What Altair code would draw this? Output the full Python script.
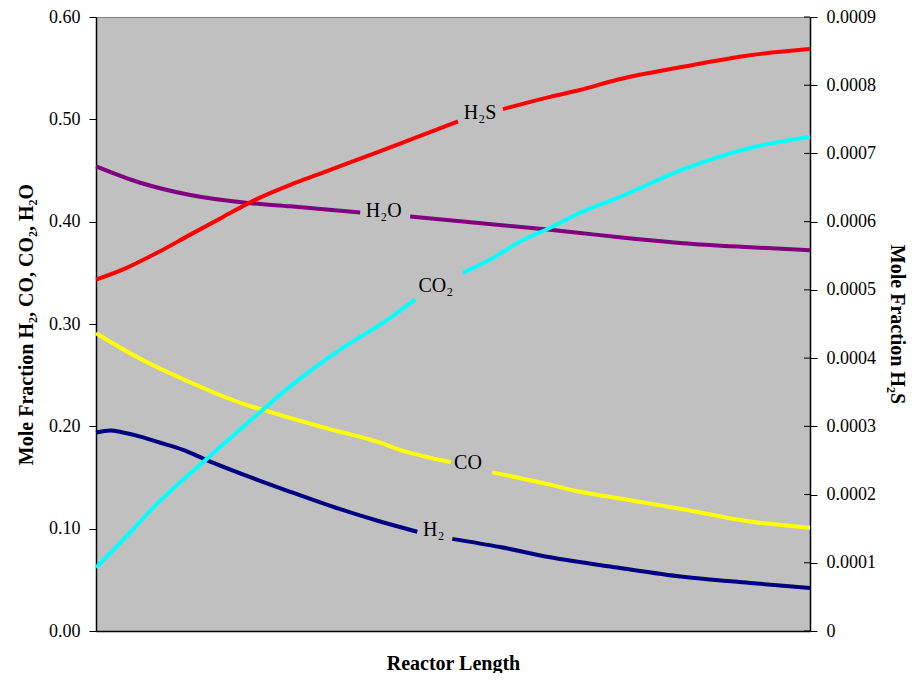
import altair as alt
import pandas as pd

# ---- data (reactor length normalised 0..1) ----
len_h2o = [0.0, 0.062, 0.132, 0.216, 0.272, 0.370, 0.440, 0.636, 0.678, 0.730, 0.822, 0.916, 1.0]
val_h2o = [0.454, 0.438, 0.426, 0.418, 0.415, 0.409, 0.405, 0.392, 0.389, 0.385, 0.379, 0.375, 0.372]
gap_h2o = 6

len_co = [0.0, 0.062, 0.132, 0.202, 0.234, 0.318, 0.398, 0.426, 0.497, 0.555, 0.636, 0.678, 0.730, 0.822, 0.916, 1.0]
val_co = [0.291, 0.266, 0.243, 0.223, 0.216, 0.199, 0.184, 0.177, 0.165, 0.155, 0.143, 0.136, 0.130, 0.119, 0.107, 0.101]
gap_co = 9

len_h2 = [0.0, 0.020, 0.038, 0.062, 0.085, 0.122, 0.155, 0.225, 0.272, 0.342, 0.398, 0.450, 0.499, 0.566, 0.636, 0.730, 0.822, 0.916, 1.0]
val_h2 = [0.194, 0.196, 0.194, 0.190, 0.185, 0.177, 0.167, 0.148, 0.136, 0.119, 0.107, 0.097, 0.090, 0.082, 0.072, 0.062, 0.053, 0.047, 0.042]
gap_h2 = 12

len_co2 = [0.0, 0.038, 0.085, 0.155, 0.225, 0.272, 0.342, 0.408, 0.447, 0.514, 0.552, 0.598, 0.636, 0.682, 0.730, 0.822, 0.916, 1.0]
val_co2 = [0.062, 0.089, 0.124, 0.168, 0.211, 0.239, 0.275, 0.304, 0.324, 0.350, 0.363, 0.382, 0.394, 0.410, 0.423, 0.451, 0.472, 0.483]
gap_co2 = 9

len_h2s = [0.0, 0.038, 0.085, 0.132, 0.178, 0.225, 0.272, 0.318, 0.402, 0.507, 0.570, 0.636, 0.678, 0.730, 0.822, 0.916, 1.0]
val_h2s = [0.000515, 0.000530, 0.000554, 0.000581, 0.000607, 0.000633, 0.000654, 0.000672, 0.000705, 0.000747,
           0.000765, 0.000783, 0.000793, 0.000808, 0.000827, 0.000844, 0.000853]
gap_h2s = 10

series_names = ["H2O", "CO", "H2", "CO2"]
series_colors = ["#800080", "#FFFF00", "#000080", "#00FFFF"]

label_text = ["H\u2082S", "H\u2082O", "CO\u2082", "CO", "H\u2082"]
label_x = [0.538, 0.403, 0.476, 0.521, 0.473]
label_y = [0.506, 0.410, 0.337, 0.164, 0.099]

left_ticks = [0.0, 0.1, 0.2, 0.3, 0.4, 0.5, 0.6]
right_ticks = [0.0, 0.0001, 0.0002, 0.0003, 0.0004, 0.0005, 0.0006, 0.0007, 0.0008, 0.0009]

# ---- build tables ----
def rows(name, xs, ys, gap):
    out = []
    for i, (x, y) in enumerate(zip(xs, ys)):
        out.append({"series": name, "seg": f"{name}-{0 if i < gap else 1}", "x": x, "y": y})
    return out

left_rows = (rows("H2O", len_h2o, val_h2o, gap_h2o) + rows("CO", len_co, val_co, gap_co)
             + rows("H2", len_h2, val_h2, gap_h2) + rows("CO2", len_co2, val_co2, gap_co2))
df_left = pd.DataFrame(left_rows)
df_h2s = pd.DataFrame(rows("H2S", len_h2s, val_h2s, gap_h2s))
df_labels = pd.DataFrame({"label": label_text, "x": label_x, "y": label_y})
df_rticks = pd.DataFrame({"y": right_ticks})

FONT = "Liberation Serif"

X = alt.X("x:Q", scale=alt.Scale(domain=[0, 1], nice=False, zero=False),
          axis=alt.Axis(ticks=False, labels=False, domain=True, grid=False,
                        title="Reactor Length", titleX=357, titleY=38,
                        titleBaseline="alphabetic", titleAlign="center"))

Y_left = alt.Y("y:Q", scale=alt.Scale(domain=[0, 0.6], nice=False),
               axis=alt.Axis(values=left_ticks, format=".2f", tickSize=7, labelPadding=9, grid=False,
                             title="Mole Fraction H\u2082, CO, CO\u2082, H\u2082O",
                             titleX=-64, titleY=307, titleAngle=-90,
                             titleBaseline="alphabetic", titleAlign="center"))

Y_right = alt.Y("y:Q", scale=alt.Scale(domain=[0, 0.0009], nice=False),
                axis=alt.Axis(orient="right", values=right_ticks,
                              labelExpr="datum.value == 0 ? '0' : format(datum.value, '.4f')",
                              tickSize=7, labelPadding=9, grid=False,
                              title="Mole Fraction H\u2082S",
                              titleX=80, titleY=307, titleAngle=90,
                              titleBaseline="alphabetic", titleAlign="center"))

lines_left = alt.Chart(df_left).mark_line(strokeWidth=4, interpolate="monotone").encode(
    x=X, y=Y_left,
    color=alt.Color("series:N", scale=alt.Scale(domain=series_names, range=series_colors), legend=None),
    detail="seg:N",
)

labels = alt.Chart(df_labels).mark_text(font=FONT, fontSize=20, color="black",
                                        align="center", baseline="middle").encode(
    x=X, y=Y_left, text="label:N")

left_layer = alt.layer(lines_left, labels)

line_h2s = alt.Chart(df_h2s).mark_line(strokeWidth=4, color="#FF0000", interpolate="monotone").encode(
    x=X, y=Y_right, detail="seg:N")

inner_ticks = alt.Chart(df_rticks).mark_rule(color="black", strokeWidth=1).encode(
    y=Y_right, x=alt.value(708), x2=alt.value(714))

right_layer = alt.layer(line_h2s, inner_ticks)

chart = alt.layer(left_layer, right_layer).resolve_scale(y="independent").properties(
    width=714, height=614,
    autosize=alt.AutoSizeParams(type="none"),
    padding={"left": 88, "top": 9, "right": 97, "bottom": 42},
    background="white",
).configure_view(
    fill="#C0C0C0", stroke="#808080", strokeWidth=1
).configure_axis(
    labelFont=FONT, labelFontSize=18, labelColor="black",
    titleFont=FONT, titleFontSize=20, titleFontWeight="bold", titleColor="black",
    domainColor="black", domainWidth=1.5, tickColor="black", tickWidth=1,
)

chart.save("out.html", embed_options={"renderer": "svg", "actions": False})
